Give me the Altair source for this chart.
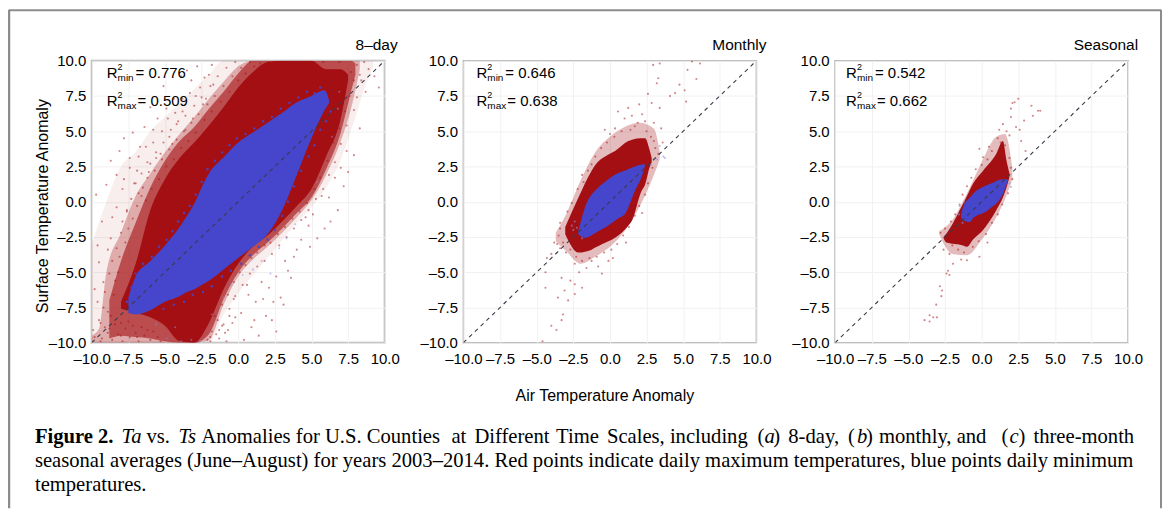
import altair as alt
import pandas as pd

TICKS = [-10, -7.5, -5, -2.5, 0, 2.5, 5, 7.5, 10]
DIAG = [-10, 10]

# --- panel 1: envelopes of the point cloud (x, lower y, upper y)
P1_WASH_X = [-10, -9, -8, -7, -6, -5, -4, -3, -2, -1, 0, 2, 4, 5, 6, 7, 8, 8.6, 9.2]
P1_WASH_LO = [-10, -10, -10, -10, -10, -10, -10, -10, -10, -8, -6.5, -4, -1.5, -0.4, 1, 3, 6, 8, 9.5]
P1_WASH_HI = [-3, 0, 2.5, 3.5, 5, 6, 7, 8, 9, 10, 10, 10, 10, 10, 10, 10, 10, 10, 10]
P1_MID_X = [-10, -9.5, -9, -8, -7, -6, -5, -4, -3, -2, -1, 0, 1, 2, 3, 4, 5, 6, 7, 7.8, 8.3]
P1_MID_LO = [-10, -10, -10, -10, -10, -10, -10, -10, -10, -9.8, -7.3, -5.3, -4.1, -3.2, -2.2, -1.1, 0.1, 1.9, 4.3, 7, 9.4]
P1_MID_HI = [-9.5, -9, -5, -2.2, 0.4, 2, 3.5, 4.8, 6, 7.3, 8.5, 9.6, 10, 10, 10, 10, 10, 10, 10, 10, 10]
P1_NEAR_X = [-8.8, -8, -7, -6, -5, -4, -3, -2, -1, 0, 1, 2, 3, 4, 5, 6, 7, 7.7, 8]
P1_NEAR_LO = [-9.7, -9.5, -9.6, -9.7, -9.9, -10, -10, -9.4, -6.9, -5, -3.8, -2.9, -1.9, -0.8, 0.3, 2.3, 4.9, 7.8, 9]
P1_NEAR_HI = [-7, -4.2, -1.5, 1, 2.9, 4.3, 5.3, 6.6, 7.8, 9.1, 10, 10, 10, 10, 10, 10, 10, 10, 9.8]
P1_DENSE_X = [-8, -7, -6, -5, -4, -3, -2, -1, 0, 1, 2, 3, 4, 5, 6, 7, 7.5]
P1_DENSE_LO = [-7.6, -7.9, -8.2, -8.8, -9.9, -10, -8.6, -6.2, -4.4, -3.2, -2.4, -1.4, -0.3, 0.9, 3.2, 5.9, 8.6]
P1_DENSE_HI = [-7.1, -4.4, -0.6, 1.6, 3.1, 4.2, 5.4, 6.7, 8.1, 9.2, 9.9, 10, 10, 10, 9.4, 9.4, 9]
P1_BLUE_X = [-7.5, -7, -6, -5, -4, -3.5, -3, -2.5, -2, -1, 0, 1, 2, 3, 4, 5, 5.9, 6.2]
P1_BLUE_LO = [-7.9, -8, -7.7, -7.1, -6.7, -6.4, -6.2, -5.9, -5.6, -4.8, -4, -3.2, -2.3, -0.6, 1.9, 4.5, 6.5, 7]
P1_BLUE_HI = [-6.8, -5.3, -4.2, -3.1, -1.8, -1, -0.15, 1, 2, 3.15, 4.2, 4.9, 5.6, 6.3, 7.05, 7.5, 7.9, 7.2]

# --- panel 1: individual scattered points
P1_RED = [
    (-9.6,-3.1),(-9.3,-1.4),(-9.7,0.5),(-9.0,1.2),(-8.7,2.9),(-8.3,1.9),(-8.1,3.6),(-7.8,4.5),(-7.9,0.9),(-7.4,3.1),
    (-7.2,4.9),(-6.9,2.2),(-6.7,3.9),(-6.4,5.3),(-6.2,2.8),(-6.0,6.7),(-5.8,4.2),(-5.5,5.9),(-5.3,3.4),(-5.1,8.2),
    (-4.9,6.6),(-4.7,4.6),(-4.4,7.3),(-4.2,5.5),(-3.9,8.9),(-3.8,6.4),(-3.5,9.3),(-3.3,7.7),(-3.1,5.9),(-2.8,9.6),
    (-2.6,8.1),(-2.4,6.9),(-2.0,9.0),(-1.7,8.3),(-9.8,-6.2),(-9.5,-4.3),(-9.2,-7.5),(-8.9,-3.4),(-9.4,-8.6),(-9.9,-9.1),
    (-8.6,-1.1),(-8.4,-5.6),(-7.6,-0.7),(-7.1,1.3),(-6.6,0.4),(-6.1,2.1),(-5.6,3.1),(-4.5,4.1),(-3.6,5.1),(-2.2,7.3),
    (-9.1,-6.4),(-8.8,-5.1),(-8.9,-7.8),(-8.6,-4.2),(-8.5,-6.6),(-8.3,-3.3),(-8.2,-5.0),(-8.0,-2.2),(-8.1,-3.9),(-7.9,-1.4),
    (-7.7,-2.9),(-7.6,-0.6),(-7.5,-1.9),(-7.3,0.2),(-7.2,-1.2),(-7.0,1.3),(-6.9,-0.3),(-6.8,0.6),(-6.6,2.0),(-6.5,1.0),
    (-6.3,0.1),(-6.2,1.7),(-6.0,2.7),(-5.9,0.9),(-5.7,2.2),(-5.6,3.5),(-5.4,1.6),(-5.2,3.0),(-5.1,4.2),(-4.9,2.5),
    (-4.7,3.7),(-4.6,5.1),(-4.4,3.0),(-4.2,4.4),(-4.1,5.7),(-3.9,3.8),(-3.7,5.0),(-3.6,6.1),(-3.4,4.3),(-3.2,5.6),
    (-3.0,6.8),(-2.9,4.9),(-2.7,6.2),(-2.5,7.4),(-2.3,5.8),(-2.1,6.9),(-1.9,8.2),(-1.8,6.4),(-1.6,7.5),(-1.4,8.9),
    (-1.2,7.1),(-1.0,8.2),(-0.8,9.5),(-0.6,7.8),(-0.4,8.9),(-0.2,9.9),(0.0,8.6),(0.2,9.5),(0.5,9.1),(0.8,9.9),(1.1,9.6),
    (-9.8,-9.6),(-9.5,-8.4),(-9.3,-9.7),(-9.1,-8.9),(-8.9,-9.3),(-8.7,-8.1),(-8.6,-9.8),(-8.4,-8.7),(-8.2,-9.4),(-8.0,-8.6),
    (-7.9,-9.9),(-7.7,-9.0),(-7.5,-8.5),(-7.4,-9.6),(-7.2,-8.8),(-7.0,-9.3),(-6.8,-9.9),(-6.6,-8.9),(-6.4,-9.5),(-6.2,-9.1),
    (-6.0,-9.8),(-5.8,-9.2),(-5.5,-9.6),(-5.3,-9.9),(-9.6,-7.1),(-9.2,-5.7),(-8.7,-2.6),(-8.3,-0.4),(-7.8,1.6),(-7.4,2.4),
    (-6.8,3.2),(-6.3,3.9),(-5.8,5.1),(-5.2,5.0),(-4.8,5.9),(-4.3,6.3),(-3.8,7.3),(-3.2,8.6),(-2.9,7.5),(-2.3,8.8),(-1.8,9.7),
    (8.9,9.4),(8.4,8.6),(8.1,7.4),(8.7,7.8),(9.3,8.9),(9.6,8.1),(8.3,5.2),(7.9,3.3),(7.5,2.1),(7.2,1.1),
    (6.8,-0.6),(6.3,-1.4),(5.9,-1.9),(5.4,-2.6),(4.9,-3.2),(4.3,-2.7),(3.8,-3.9),(3.2,-4.2),(2.6,-5.3),(2.1,-6.1),
    (1.6,-5.7),(1.2,-7.1),(0.7,-6.6),(0.2,-7.9),(-0.4,-8.6),(-0.9,-9.3),(-1.3,-9.7),(2.9,-6.8),(3.4,-4.9),(2.3,-8.4),
    (3.1,-7.3),(2.6,-9.2),(1.9,-8.1),(1.4,-9.5),(0.9,-8.9),(0.4,-9.8),(-0.2,-8.2),(-0.7,-9.1),(4.6,-1.1),(5.1,-0.9),
    (5.7,0.4),(6.2,0.3),(6.6,1.7),(7.0,2.4),(7.4,3.6),(3.6,-5.4),(2.4,-7.1),(1.7,-6.9),(1.1,-8.4),(0.6,-5.9),
    (-1.5,-9.4),(-1.1,-8.8),(-0.6,-7.6),(-1.9,-9.6),(-0.3,-6.9),(-2.1,-9.8),(-1.6,-8.1),(-0.8,-9.9),(4.0,-3.4),(4.8,-1.7),
    (-1.8,-9.2),(-1.4,-8.4),(-1.1,-7.3),(-0.7,-6.6),(-0.3,-5.7),(0.1,-5.0),(0.5,-4.5),(0.9,-4.0),(1.3,-3.6),(1.8,-3.1),
    (2.2,-2.9),(2.7,-2.3),(3.2,-1.8),(3.7,-1.2),(4.2,-0.7),(4.7,-0.1),(5.2,0.9),(5.6,1.7),(6.1,2.9),(6.5,4.2),
    (6.9,5.2),(7.3,6.4),(7.6,7.5),(7.9,8.6),(8.1,9.7),(7.7,9.2),(7.4,5.4),(7.0,4.1),(6.6,2.8),(6.2,1.9),
    (5.8,0.9),(5.3,0.2),(4.8,-0.6),(4.3,-1.3),(3.8,-1.9),(3.3,-2.5),(2.8,-3.1),(2.3,-3.7),(1.8,-4.2),(1.3,-4.6),
    (0.8,-5.1),(0.3,-5.9),(-0.2,-6.7),(-0.6,-8.1),(-1.0,-8.7),(-1.3,-9.1),(-1.9,-9.9),(8.6,9.9),(8.3,9.0),(7.9,6.5),
    (6.9,9.9),(5.8,9.9),(4.6,9.7),(3.3,9.8),(2.1,9.9),(1.5,9.8),(-9.4,-9.9),(-8.8,-9.0),(-8.0,-9.5),(-6.9,-9.6),
]
P1_PALE = [
    (-4.9,-9.7),(-3.9,-9.9),(-3.2,-9.8),(-2.6,-9.9),(-1.8,-8.0),(-1.0,-6.8),(-0.5,-5.9),(0.3,-5.2),(1.0,-4.8),(1.6,-4.2),
    (2.2,-5.1),(2.8,-3.3),(3.3,-2.6),(3.9,-1.6),(-5.6,-8.7),(-4.3,-8.9),(6.4,4.6),(6.8,6.6),(6.9,7.8),(5.4,1.4),
]
P1_BLUE_EDGE = [
    (-7.6,-7.1),(-7.3,-6.1),(-7.0,-5.1),(-6.5,-4.4),(-5.9,-3.9),(-5.4,-3.2),(-4.9,-2.7),(-4.5,-2.1),(-4.1,-1.4),(-3.7,-0.8),
    (-3.3,-0.3),(-2.9,0.5),(-2.5,1.4),(-2.1,2.3),(-1.6,2.9),(-1.1,3.5),(-0.6,4.0),(-0.1,4.5),(0.5,4.8),(1.1,5.2),
    (1.7,5.7),(2.3,6.0),(2.9,6.6),(3.5,7.0),(4.1,7.4),(4.7,7.8),(5.2,7.7),(5.6,8.1),(6.3,6.4),(6.0,5.7),
    (5.6,5.1),(5.2,4.0),(4.8,3.2),(4.3,2.2),(3.8,1.1),(3.4,0.0),(3.0,-1.0),(2.5,-2.0),(2.0,-2.7),(1.4,-3.2),
    (0.8,-3.8),(0.2,-4.4),(-0.5,-4.9),(-1.1,-5.3),(-1.8,-6.0),(-2.4,-6.4),(-3.1,-6.6),(-3.7,-7.1),(-4.4,-7.3),(-5.1,-7.6),
]

# --- panel 2
P2_WASH_X = [-3.7, -3, -2, -1, 0, 1, 2, 3, 3.4]
P2_WASH_LO = [-2.8, -3.5, -4.4, -3.9, -3.2, -2.1, -0.4, 1.9, 3]
P2_WASH_HI = [-2.2, -0.9, 1.5, 3.5, 4.6, 5.3, 5.6, 5.2, 3.6]
P2_DENSE_X = [-3.05, -2.15, -1.25, -1, -0.1, 0.35, 1.25, 1.5, 2.15, 2.4, 2.7, 2.85]
P2_DENSE_LO = [-2.3, -3.6, -3.4, -3.25, -2.8, -2.55, -1.7, -1.35, 0.75, 1.2, 2.4, 2.8]
P2_DENSE_HI = [-1.8, 0.3, 2.2, 2.6, 3.35, 3.6, 4.3, 4.4, 4.5, 4.5, 3.7, 3.1]
P2_BLUE_X = [-2.16, -1.7, -0.8, -0.35, 0.6, 1, 1.7, 2.3, 2.4]
P2_BLUE_LO = [-2.3, -2.55, -2.1, -1.85, -1.15, -0.9, 0.75, 2.2, 2.6]
P2_BLUE_HI = [-2.1, -0.4, 1, 1.4, 2.05, 2.2, 2.5, 2.65, 2.6]
P2_RED = [
    (2.95,9.7),(3.4,9.8),(3.3,8.75),(3.2,8.4),(5.6,9.95),(6.15,9.8),(5.3,9.35),(5.9,8.7),(4.75,8.3),(4.45,7.7),
    (5.1,7.9),(5.2,7.1),(2.6,7.65),(2.85,7.0),(3.4,6.65),(4.1,7.5),(0.55,6.4),(1.25,6.65),(2.4,5.7),(3.5,5.2),
    (1.7,5.35),(-0.35,5.1),(0.35,5.2),(-1.25,2.65),(-1.9,1.9),(-3.4,-1.5),(-3.6,-3.0),(-4.0,-3.7),(-4.3,-4.0),(-4.4,-5.0),
    (-4.4,-6.1),(-3.3,-5.4),(-2.7,-5.6),(-2.4,-5.85),(-3.1,-6.3),(-3.55,-6.8),(-2.85,-7.0),(-2.4,-6.55),(-3.3,-8.4),(-4.0,-8.8),
    (-3.65,-9.1),(-4.6,-9.9),(-3.2,-8.0),(-1.9,-6.1),(-1.25,-4.2),(-0.55,-5.1),(-0.1,-4.2),(-2.4,-4.4),(3.0,4.3),(2.2,6.2),
    (1.0,5.9),(0.0,4.8),(-3.5,-2.4),(-3.8,-2.9),(-3.2,-2.9),(-3.4,-1.9),(-2.9,-0.7),(-2.6,-0.1),(-2.2,0.9),(-1.8,1.4),
    (-1.5,2.2),(-1.0,3.2),(-0.6,3.8),(-0.2,4.2),(0.3,4.6),(0.8,5.0),(1.4,5.1),(1.9,5.6),(2.5,5.0),(2.8,4.6),
    (3.1,3.8),(3.3,3.4),(2.9,2.4),(2.6,1.3),(2.4,0.5),(2.0,-0.3),(1.7,-1.0),(1.3,-1.8),(0.9,-2.4),(0.5,-3.0),
    (0.1,-3.4),(-0.4,-3.6),(-0.9,-3.9),(-1.4,-4.0),(-1.9,-4.2),(-2.3,-3.9),(-2.7,-3.4),(-3.0,-3.6),(-3.4,-3.3),(-2.6,-2.9),
    (-1.6,-4.7),(-2.1,-5.0),(-0.8,-4.6),(2.2,-0.8),(1.1,-2.9),(0.2,-4.0),(3.0,5.6),(3.6,4.2),(2.0,6.9),(1.5,6.1),
]
P2_PALE = [(3.4,3.95),(3.65,3.2),(3.2,3.0),(3.75,3.1),(-2.25,-1.85),(-1.9,-2.6),(-2.5,-2.0),(-2.4,-1.4),(-2.6,-1.7),(2.8,2.6)]

# --- panel 3
P3_WASH_X = [-2.9, -2, -1, 0, 1, 1.6, 2.1]
P3_WASH_LO = [-2.3, -3.7, -3.8, -2.7, -1.1, 0.2, 1.6]
P3_WASH_HI = [-2.1, -1.3, 0.6, 2.8, 4.6, 4.8, 2.4]
P3_DENSE_X = [-2.6, -2.4, -1.27, -1, -0.6, 0.1, 1, 1.45, 1.7, 1.9]
P3_DENSE_LO = [-2.6, -2.9, -3.1, -3.2, -2.7, -2.0, -0.6, 0.3, 1.0, 1.75]
P3_DENSE_HI = [-2.5, -2.25, -0.15, 0.4, 1.25, 2.2, 3.4, 4.3, 2.9, 2.0]
P3_BLUE_X = [-1.4, -1.27, -0.8, -0.6, 0.3, 0.55, 1.45, 1.8]
P3_BLUE_LO = [-1.1, -1.3, -1.45, -1.2, -0.7, -0.5, 0.55, 1.5]
P3_BLUE_HI = [-0.9, -0.4, 0.3, 0.55, 1.15, 1.25, 1.6, 1.6]
P3_RED = [
    (2.25,7.05),(2.5,7.3),(2.0,6.6),(3.4,6.8),(3.85,6.45),(4.0,6.45),(2.0,6.0),(2.35,5.3),(2.9,5.75),(1.7,5.0),
    (2.7,4.3),(3.5,6.1),(1.45,5.5),(1.3,4.2),(-0.15,3.75),(0.1,3.15),(-2.85,-6.0),(-2.7,-6.3),(-2.75,-6.7),(-3.1,-7.3),
    (-3.9,-8.4),(-3.55,-8.05),(-3.3,-8.2),(-3.05,-8.2),(-3.55,-8.5),(-2.4,-5.1),(-2.2,-5.2),(-2.3,-4.9),(-1.95,-4.4),(-2.6,-3.4),
    (-2.2,-3.7),(-1.0,-4.15),(-0.15,-3.9),(2.1,7.0),(2.6,5.1),(1.9,4.7),(3.0,3.6),(-2.8,-2.2),(-2.5,-1.9),(-2.1,-1.4),
    (-1.8,-0.9),(-1.5,-0.2),(-1.3,0.5),(-1.0,1.1),(-0.7,1.7),(-0.4,2.3),(0.0,2.6),(0.4,3.0),(0.7,3.6),(1.1,4.5),
    (1.6,4.0),(1.9,3.1),(2.0,2.4),(2.1,1.6),(1.8,0.6),(1.4,-0.2),(1.1,-0.9),(0.7,-1.5),(0.3,-2.3),(-0.2,-2.8),
    (-0.6,-3.2),(-1.2,-3.6),(-1.6,-3.4),(-2.0,-3.1),(-2.4,-2.8),(-1.4,-4.1),(0.4,-2.9),(1.2,2.0),(0.5,3.9),(1.2,5.1),
]
P3_PALE = [(-1.55,-0.9),(-1.5,-0.3),(1.9,1.3),(2.0,1.05),(-1.2,0.0),(-1.3,-1.5)]

LABELS = [
    ("8–day", "0.776", "0.509", "min", "max"),
    ("Monthly", "0.646", "0.638", "min", "max"),
    ("Seasonal", "0.542", "0.662", "min", "max"),
]

RED = "#a30f12"
BLUE = "#4646cc"
SANS = "Liberation Sans"
SERIF = "Liberation Serif"
W, H = 294, 283
OX, OY = 92, 60  # plot origin of the first panel on the page

xs = alt.Scale(domain=[-10, 10], nice=False)
ys = alt.Scale(domain=[-10, 10], nice=False)
LABEL_EXPR = "(datum.value<0?'–':'')+format(abs(datum.value),'.1f')"
XAXIS = alt.Axis(
    values=TICKS, labelExpr=LABEL_EXPR, labelFont=SANS, labelFontSize=15, labelColor="black", title=None,
    tickSize=0, domain=False, grid=True, gridColor="#f1f1f1", labelOverlap=False, labelPadding=9, labelFlush=False)
YAXIS = alt.Axis(
    values=TICKS, labelExpr=LABEL_EXPR, labelFont=SANS, labelFontSize=15, labelColor="black", title=None,
    tickSize=0, domain=False, grid=True, gridColor="#f1f1f1", labelOverlap=False, labelPadding=6, labelFlush=False)
EX = alt.X("x:Q", scale=xs, axis=XAXIS)


def note(text, x, y, size=15, align="left", font=SANS, weight="normal", style="normal", angle=0):
    d = pd.DataFrame({"t": [text]})
    return alt.Chart(d).mark_text(
        align=align, baseline="middle", font=font, fontSize=size, angle=angle,
        fontWeight=weight, fontStyle=style, color="black",
    ).encode(x=alt.value(x), y=alt.value(y), text="t:N")


def area(x, lo, hi, color, opacity):
    d = pd.DataFrame({"x": x, "lo": lo, "hi": hi})
    return alt.Chart(d).mark_area(color=color, opacity=opacity, clip=True, interpolate="monotone").encode(
        x=EX, y=alt.Y("lo:Q", scale=ys, axis=YAXIS), y2="hi:Q")


def dots(pairs, color, opacity, size=4.5):
    d = pd.DataFrame(pairs, columns=["x", "y"])
    return alt.Chart(d).mark_circle(color=color, opacity=opacity, size=size, clip=True).encode(
        x=EX, y=alt.Y("y:Q", scale=ys, axis=YAXIS))


def panel(layers, labels, rx, title_dx, stroke="#a9a9a9", sw=1.5, extra=()):
    title, rmin, rmax, smin, smax = labels
    base = alt.Chart(pd.DataFrame({"x": DIAG, "y": DIAG}))
    diag = base.mark_line(color="#3a3a4a", strokeWidth=1.1, strokeDash=[4, 4], clip=True).encode(
        x=EX, y=alt.Y("y:Q", scale=ys, axis=YAXIS))
    texts = [
        note("R", rx, 12), note("2", rx + 11, 6, size=9), note(smin, rx + 11, 17, size=10),
        note("= " + rmin, rx + 29, 12),
        note("R", rx, 40), note("2", rx + 11, 34, size=9), note(smax, rx + 11, 45, size=10),
        note("= " + rmax, rx + 31, 40),
        note(title, W + title_dx, -16, size=15.5, align="right"),
    ]
    return alt.layer(*layers, diag, *texts, *extra).properties(
        width=W, height=H, view=alt.ViewBackground(stroke=stroke, strokeWidth=sw))


def frame():
    d = pd.DataFrame({"k": [0]})
    c = "#8c8c8c"
    return [
        alt.Chart(d).mark_rule(color=c, strokeWidth=2).encode(
            x=alt.value(9 - OX), x2=alt.value(1165 - OX), y=alt.value(9.5 - OY)),
        alt.Chart(d).mark_rule(color=c, strokeWidth=2.5).encode(
            x=alt.value(9 - OX), y=alt.value(9 - OY), y2=alt.value(509 - OY)),
        alt.Chart(d).mark_rule(color=c, strokeWidth=2).encode(
            x=alt.value(1165 - OX), y=alt.value(9 - OY), y2=alt.value(509 - OY)),
    ]


def caption():
    L1, L2, L3 = 438 - OY, 462 - OY, 486 - OY
    s = 20.7
    cap = lambda t, px, y, **k: note(t, px - OX, y, size=s, font=SERIF, **k)
    return [
        cap("Figure 2.", 35, L1, weight="bold"),
        cap("Ta", 122, L1, style="italic"),
        cap("vs.", 147, L1),
        cap("Ts", 179, L1, style="italic"),
        cap("Anomalies for U.S. Counties", 202, L1),
        cap("at", 453, L1),
        cap("Different", 476, L1),
        cap("Time", 558, L1),
        cap("Scales, including", 609, L1),
        cap("(", 760, L1),
        cap("a", 767, L1, style="italic"),
        cap(")", 776, L1),
        cap("8-day,", 791, L1),
        cap("(", 851, L1),
        cap("b", 860, L1, style="italic"),
        cap(")", 869, L1),
        cap("monthly, and", 882, L1),
        cap("(", 1005, L1),
        cap("c", 1013, L1, style="italic"),
        cap(")", 1022, L1),
        cap("three-month", 1037, L1),
        cap("seasonal averages (June–August) for years 2003–2014. Red points indicate daily maximum temperatures, blue points daily minimum", 35, L2),
        cap("temperatures.", 35, L3),
    ]


p1 = panel(
    [
        area(P1_WASH_X, P1_WASH_LO, P1_WASH_HI, RED, 0.07),
        area(P1_MID_X, P1_MID_LO, P1_MID_HI, RED, 0.3),
        area(P1_NEAR_X, P1_NEAR_LO, P1_NEAR_HI, RED, 0.6),
        area(P1_DENSE_X, P1_DENSE_LO, P1_DENSE_HI, RED, 1),
        dots(P1_RED, RED, 0.5),
        dots(P1_PALE, "#8f8fe0", 0.5),
        area(P1_BLUE_X, P1_BLUE_LO, P1_BLUE_HI, BLUE, 1),
        dots(P1_BLUE_EDGE, BLUE, 0.9, 6),
    ],
    LABELS[0], 15, 13, stroke="#b5b5b5", sw=2,
    extra=frame() + caption() + [note("Surface Temperature Anomaly", 43 - OX, 206 - OY, size=16, align="center", angle=270)],
)
p2 = panel(
    [
        area(P2_WASH_X, P2_WASH_LO, P2_WASH_HI, RED, 0.28),
        area(P2_DENSE_X, P2_DENSE_LO, P2_DENSE_HI, RED, 1),
        dots(P2_RED, RED, 0.5),
        dots(P2_PALE, "#8f8fe0", 0.6),
        area(P2_BLUE_X, P2_BLUE_LO, P2_BLUE_HI, BLUE, 1),
    ],
    LABELS[1], 13, 10,
    extra=[note("Air Temperature Anomaly", 607 - 465, 396 - OY, size=16, align="center")],
)
p3 = panel(
    [
        area(P3_WASH_X, P3_WASH_LO, P3_WASH_HI, RED, 0.28),
        area(P3_DENSE_X, P3_DENSE_LO, P3_DENSE_HI, RED, 1),
        dots(P3_RED, RED, 0.5),
        dots(P3_PALE, "#8f8fe0", 0.6),
        area(P3_BLUE_X, P3_BLUE_LO, P3_BLUE_HI, BLUE, 1),
    ],
    LABELS[2], 11, 10,
)

chart = alt.hconcat(p1, p2, p3, spacing=79, bounds="flush").properties(
    background="white", padding={"left": -2, "top": -2, "right": 0, "bottom": 0}
).resolve_scale(x="independent", y="independent")

chart.save("out.html", embed_options={"renderer": "svg", "actions": False})
